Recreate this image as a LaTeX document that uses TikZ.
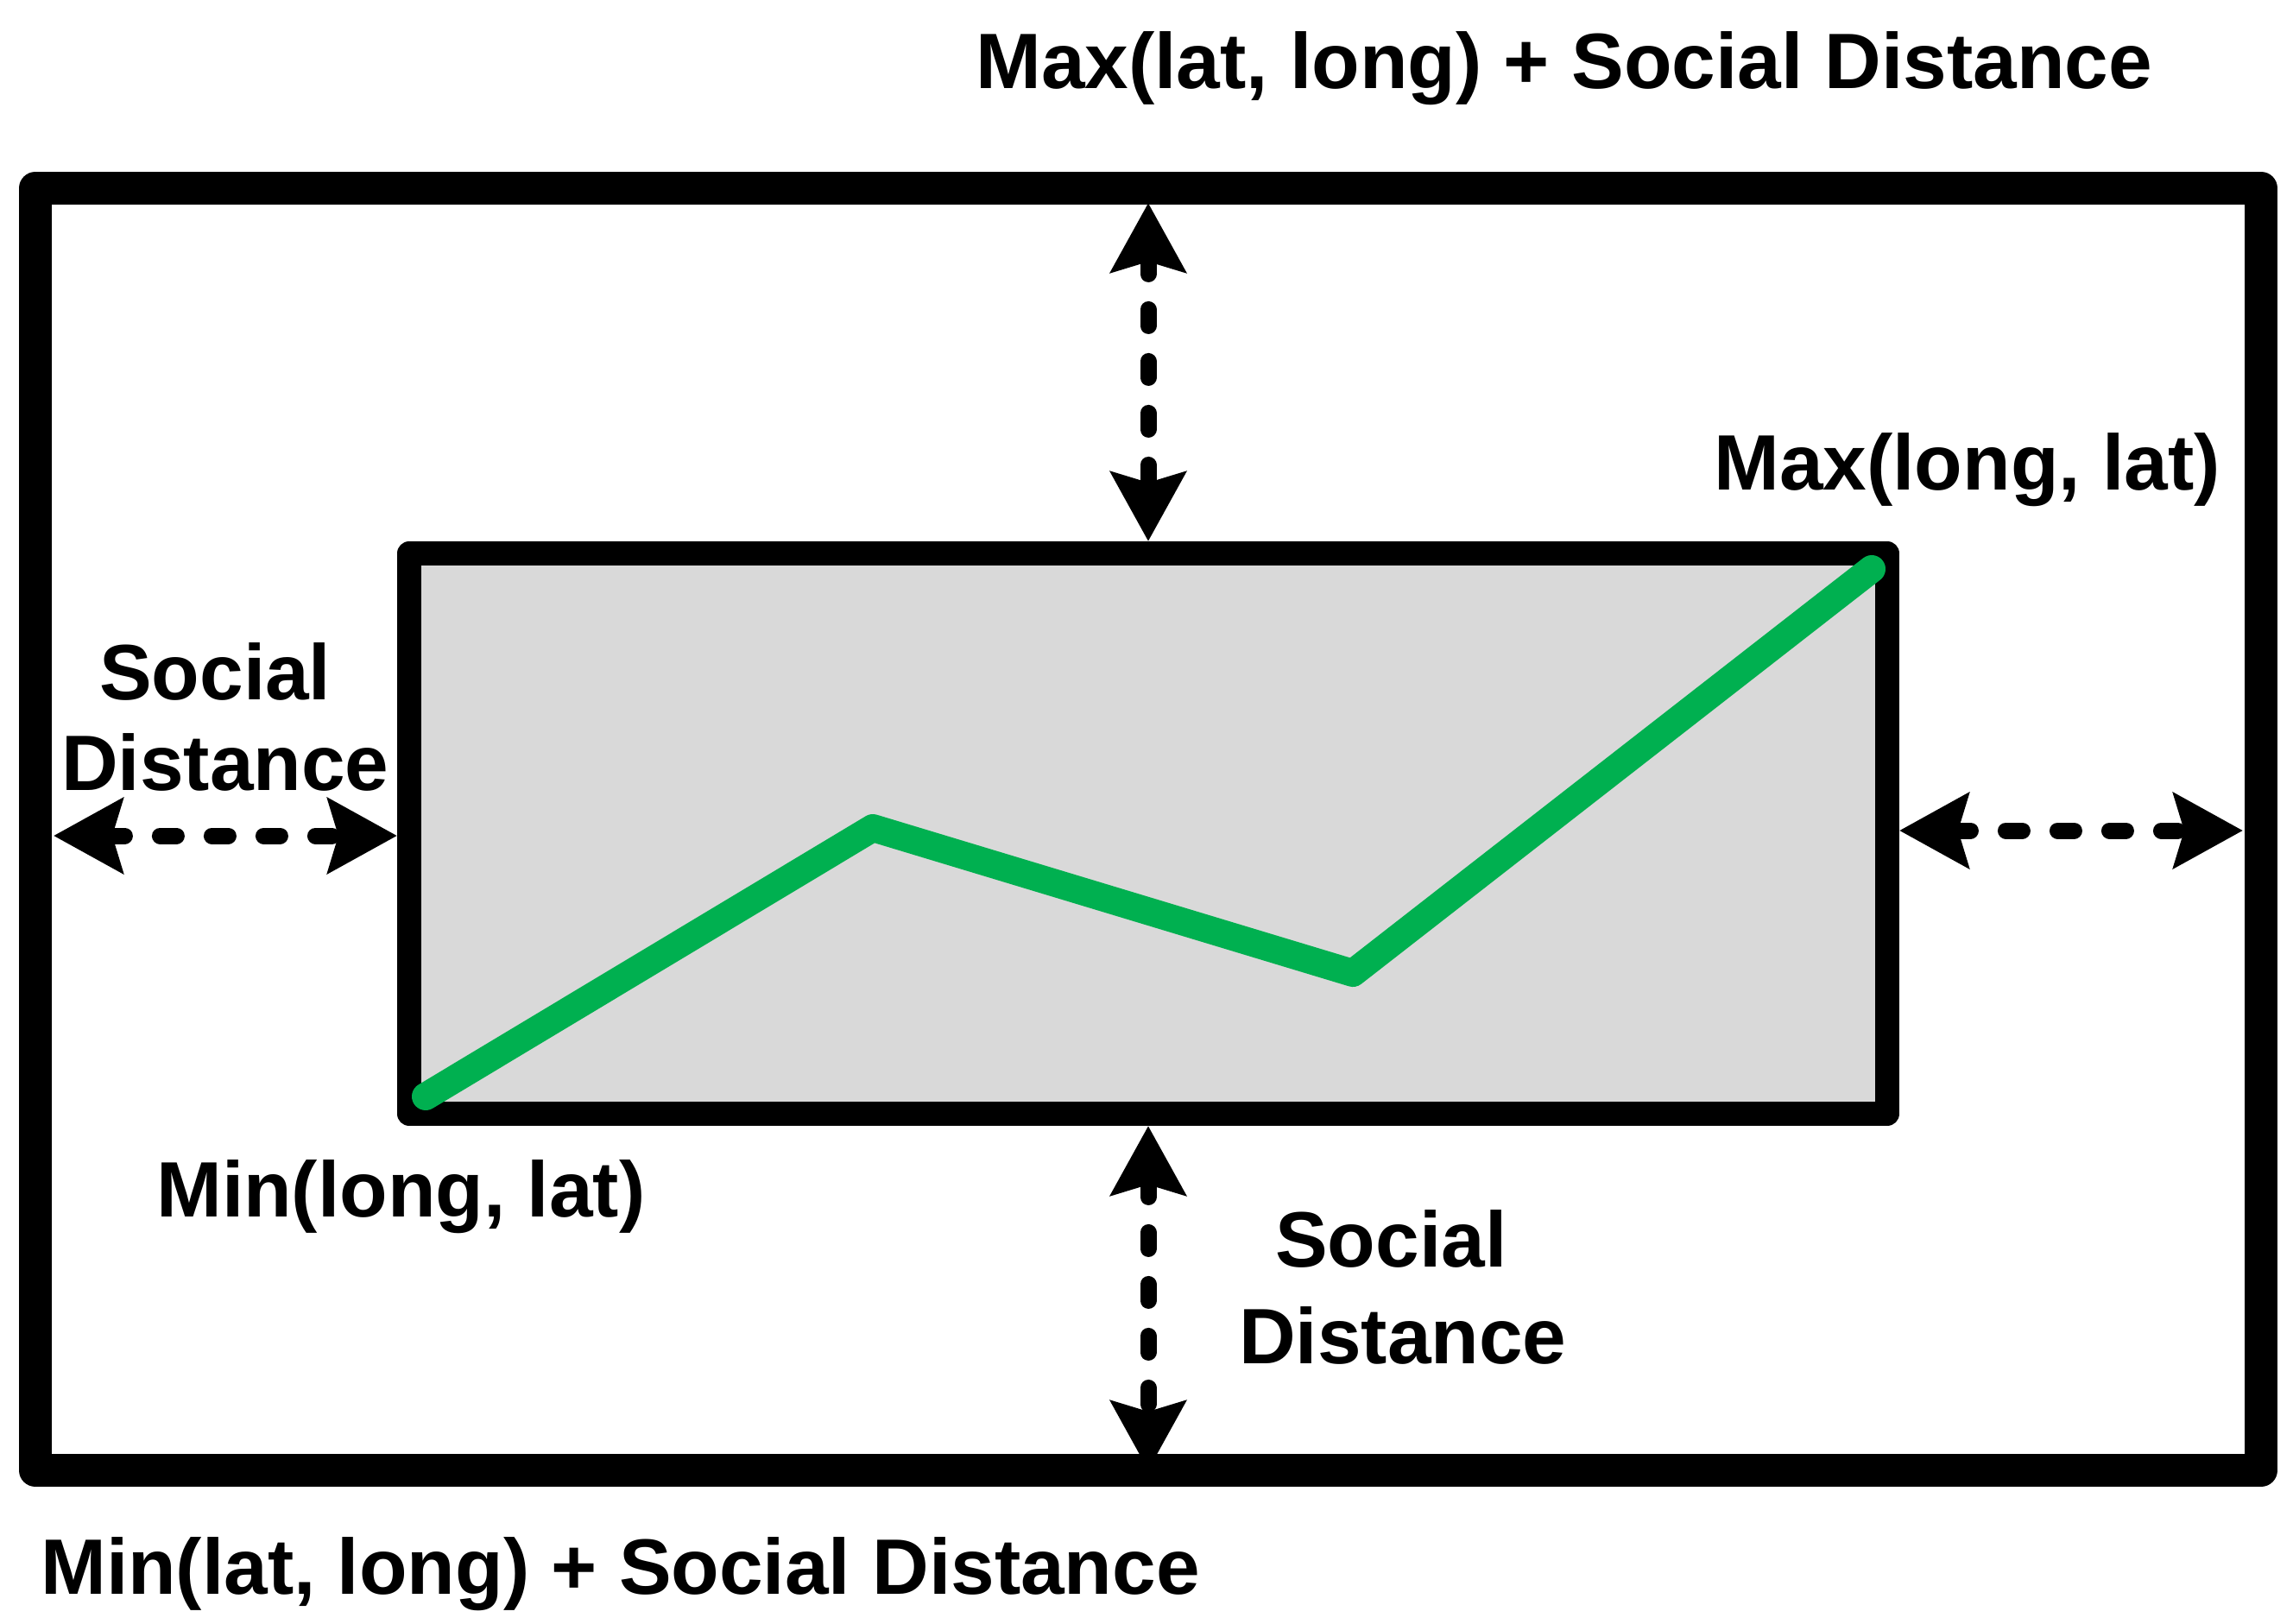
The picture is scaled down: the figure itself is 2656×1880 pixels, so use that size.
\documentclass[tikz,border=0pt]{standalone}
\usepackage{fontspec}
\setmainfont{Liberation Sans}
\usetikzlibrary{arrows.meta}
\definecolor{boxgray}{HTML}{D9D9D9}
\definecolor{pathgreen}{HTML}{00B050}
\tikzset{
  frame/.style={draw=black, line width=38pt, line join=round},
  innerbox/.style={draw=black, fill=boxgray, line width=28pt, line join=round},
  route/.style={draw=pathgreen, line width=32pt, line cap=round, line join=round},
  gap/.style={draw=black, line width=19pt, line cap=round, dash pattern=on 19pt off 41pt,
    {Stealth[length=80pt, width=86pt, inset=12pt]}-{Stealth[length=80pt, width=86pt, inset=12pt]}},
  lbl/.style={anchor=base west, inner sep=0pt, font=\bfseries\fontsize{91}{100}\selectfont}
}
\begin{document}
\begin{tikzpicture}[x=1pt, y=-1pt]
\useasboundingbox (0,0) rectangle (2656,1880);
% outer frame
\draw[frame] (41,218) rectangle (2619,1703);
% inner box
\draw[innerbox] (474,641) rectangle (2186,1290);
% green route
\coordinate (p1) at (493,1270);
\coordinate (p2) at (1011,959);
\coordinate (p3) at (1567,1127);
\coordinate (p4) at (2168,659);
\draw[route] (p1) -- (p2) -- (p3) -- (p4);
% arrow end points
\coordinate (topOut) at (1330,235);
\coordinate (topIn) at (1330,627);
\coordinate (botIn) at (1330,1304);
\coordinate (botOut) at (1330,1703);
\coordinate (leftOut) at (62,968);
\coordinate (leftIn) at (460,968);
\coordinate (rightIn) at (2200,962);
\coordinate (rightOut) at (2598,962);
\draw[gap] (topOut) -- (topIn);
\draw[gap] (botIn) -- (botOut);
\draw[gap] (leftOut) -- (leftIn);
\draw[gap] (rightIn) -- (rightOut);
% labels
\node[lbl] (maxsd) at (1130,102) {Max(lat, long) + Social Distance};
\node[lbl] (maxll) at (1985,567) {Max(long, lat)};
\node[lbl] (lsoc) at (115,810) {Social};
\node[lbl] (ldist) at (71,915) {Distance};
\node[lbl] (minll) at (181,1409) {Min(long, lat)};
\node[lbl] (bsoc) at (1477,1467) {Social};
\node[lbl] (bdist) at (1435,1579) {Distance};
\node[lbl] (minsd) at (47,1846) {Min(lat, long) + Social Distance};
\end{tikzpicture}
\end{document}
